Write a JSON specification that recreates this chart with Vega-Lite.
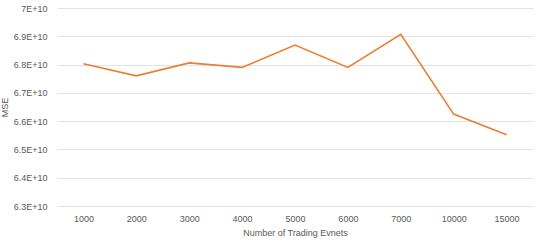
{
  "$schema": "https://vega.github.io/schema/vega-lite/v6.json",
  "autosize": "none",
  "width": 476,
  "height": 198,
  "padding": {"left": 57, "top": 8, "right": 7, "bottom": 36},
  "background": "white",
  "config": {"view": {"stroke": null}, "font": "Liberation Sans"},
  "data": {"values": [
    {"events": "1000", "mse": 68030000000},
    {"events": "2000", "mse": 67600000000},
    {"events": "3000", "mse": 68060000000},
    {"events": "4000", "mse": 67900000000},
    {"events": "5000", "mse": 68690000000},
    {"events": "6000", "mse": 67900000000},
    {"events": "7000", "mse": 69070000000},
    {"events": "10000", "mse": 66250000000},
    {"events": "15000", "mse": 65520000000}
  ]},
  "mark": {"type": "line", "color": "#ED7D31", "strokeWidth": 1.6},
  "encoding": {
    "x": {
      "field": "events", "type": "ordinal", "sort": null,
      "scale": {"paddingInner": 0, "paddingOuter": 0, "align": 0.5},
      "axis": {
        "title": "Number of Trading Evnets", "labelAngle": 0,
        "domain": false, "ticks": false, "grid": false,
        "labelFontSize": 9, "labelColor": "#595959", "labelPadding": 8,
        "titleFontSize": 9, "titleFontWeight": "normal", "titleColor": "#595959", "titlePadding": 5
      }
    },
    "y": {
      "field": "mse", "type": "quantitative",
      "scale": {"domain": [63000000000, 70000000000], "nice": false, "zero": false},
      "axis": {
        "title": "MSE", "values": [63000000000, 64000000000, 65000000000, 66000000000, 67000000000, 68000000000, 69000000000, 70000000000],
        "labelExpr": "format(datum.value/1e10, '.1~f') + 'E+10'",
        "domain": false, "ticks": false, "grid": true, "gridColor": "#E3E3E3", "gridWidth": 1,
        "labelFontSize": 9, "labelColor": "#595959", "labelPadding": 10,
        "titleFontSize": 9, "titleFontWeight": "normal", "titleColor": "#595959", "titlePadding": 4
      }
    }
  }
}
